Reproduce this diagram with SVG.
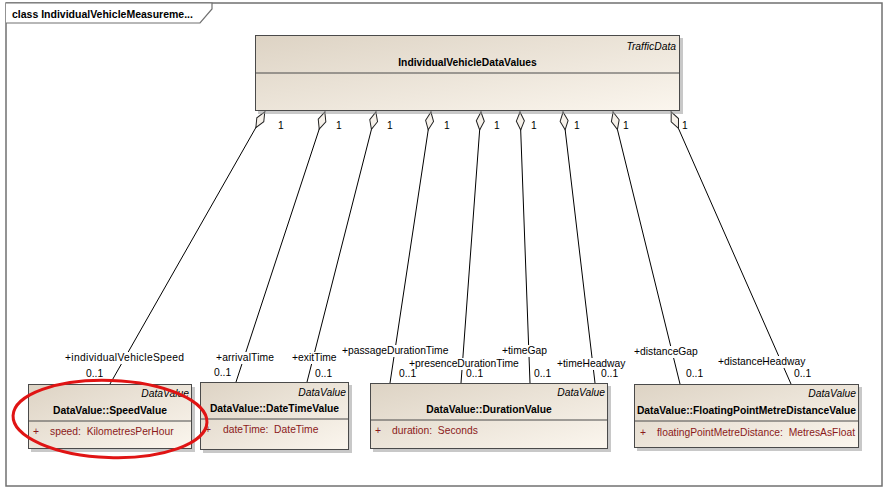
<svg xmlns="http://www.w3.org/2000/svg" width="891" height="493" viewBox="0 0 891 493">
<style>
text{font-family:"Liberation Sans",Arial,sans-serif;font-size:10.3px;fill:#000}
.b{font-weight:bold}
.i{font-style:italic}
.attr{fill:#8b1a1a}
.cls{fill:url(#g);stroke:#4a4a4a;stroke-width:1}
.sh{fill:#9a9a9a;opacity:.55}
.sep{stroke:#4a4a4a;stroke-width:1}
.con{stroke:#000;stroke-width:1;fill:none;marker-start:url(#dia)}
.bg{fill:#fff}
</style>
<defs>
<linearGradient id="g" x1="0" y1="0" x2="1" y2="1">
<stop offset="0" stop-color="#ddd3c4"/>
<stop offset="1" stop-color="#fbf6ee"/>
</linearGradient>
<marker id="dia" markerUnits="userSpaceOnUse" markerWidth="20" markerHeight="10" viewBox="0 0 20 10" refX="0" refY="5" orient="auto" overflow="visible">
<path d="M0.5,5 L9.5,1 L18.5,5 L9.5,9 Z" fill="#f6f1ea" stroke="#222" stroke-width="1"/>
</marker>
</defs>
<rect x="0" y="0" width="891" height="493" fill="#fff"/>
<g id="frame">
<rect x="6" y="3" width="876" height="483" fill="#fff" stroke="#707070" stroke-width="1.5"/>
<path d="M6,3 L212,3 L212,9 L200,23 L6,23" fill="#fff" stroke="#707070" stroke-width="1.2"/>
<text class="b" x="12" y="18" style="font-size:10.5px">class IndividualVehicleMeasureme...</text>
</g>
<g id="connectors">
<line class="con" x1="265" y1="111.5" x2="110" y2="384"/>
<line class="con" x1="325" y1="111.5" x2="236" y2="382"/>
<line class="con" x1="376" y1="111.5" x2="307" y2="382"/>
<line class="con" x1="431" y1="111.5" x2="390" y2="383"/>
<line class="con" x1="481" y1="111.5" x2="461" y2="383"/>
<line class="con" x1="520" y1="111.5" x2="530" y2="383"/>
<line class="con" x1="563" y1="111.5" x2="595" y2="383"/>
<line class="con" x1="613" y1="111.5" x2="680" y2="384"/>
<line class="con" x1="671" y1="111.5" x2="791" y2="384"/>
<g id="labels">
<text x="278" y="129">1</text>
<text x="336" y="129">1</text>
<text x="387" y="129">1</text>
<text x="444" y="129">1</text>
<text x="494" y="129">1</text>
<text x="531" y="129">1</text>
<text x="574" y="129">1</text>
<text x="623" y="129">1</text>
<text x="682" y="129">1</text>
<rect class="bg" x="64" y="352" width="121" height="12"/>
<text x="65" y="361" textLength="119" lengthAdjust="spacing">+individualVehicleSpeed</text>
<text x="86" y="377">0..1</text>
<rect class="bg" x="215" y="352" width="60" height="12"/>
<text x="216" y="361" textLength="58" lengthAdjust="spacing">+arrivalTime</text>
<text x="214" y="376">0..1</text>
<rect class="bg" x="291" y="352" width="47" height="12"/>
<text x="292" y="361">+exitTime</text>
<text x="315" y="377">0..1</text>
<rect class="bg" x="341" y="345" width="109" height="12"/>
<text x="342" y="354">+passageDurationTime</text>
<rect class="bg" x="408" y="358" width="111" height="12"/>
<text x="409" y="367">+presenceDurationTime</text>
<text x="399" y="377">0..1</text>
<text x="466" y="377">0..1</text>
<rect class="bg" x="501" y="345" width="47" height="12"/>
<text x="502" y="354">+timeGap</text>
<text x="534" y="377">0..1</text>
<rect class="bg" x="556" y="358" width="71" height="12"/>
<text x="557" y="367">+timeHeadway</text>
<text x="601" y="377">0..1</text>
<rect class="bg" x="633" y="346" width="66" height="12"/>
<text x="634" y="355">+distanceGap</text>
<text x="686" y="377">0..1</text>
<rect class="bg" x="717" y="356" width="88" height="12"/>
<text x="718" y="365">+distanceHeadway</text>
<text x="794" y="377">0..1</text>
</g>
</g>
<g id="IndividualVehicleDataValues">
<rect class="sh" x="258" y="38" width="425" height="76"/>
<rect class="cls" x="255.5" y="35.5" width="424" height="75"/>
<line class="sep" x1="255.5" y1="73" x2="679.5" y2="73"/>
<text class="i" x="676" y="50" text-anchor="end">TrafficData</text>
<text class="b" x="467.5" y="66" text-anchor="middle">IndividualVehicleDataValues</text>
</g>
<g id="SpeedValue">
<rect class="sh" x="31" y="387" width="164" height="65"/>
<rect class="cls" x="28.5" y="384.5" width="163" height="64"/>
<line class="sep" x1="28.5" y1="421" x2="191.5" y2="421"/>
<text class="i" x="189" y="397" text-anchor="end">DataValue</text>
<text class="b" x="110" y="414" text-anchor="middle">DataValue::SpeedValue</text>
<text class="attr" x="33" y="435">+</text>
<text class="attr" x="50" y="435" xml:space="preserve">speed:  KilometresPerHour</text>
</g>
<g id="DateTimeValue">
<rect class="sh" x="203" y="385" width="149" height="68"/>
<rect class="cls" x="200.5" y="382.5" width="148" height="67"/>
<line class="sep" x1="200.5" y1="419" x2="348.5" y2="419"/>
<text class="i" x="346" y="396" text-anchor="end">DataValue</text>
<text class="b" x="274.5" y="412" text-anchor="middle">DataValue::DateTimeValue</text>
<text class="attr" x="205" y="433">+</text>
<text class="attr" x="223" y="433" xml:space="preserve">dateTime:  DateTime</text>
</g>
<g id="DurationValue">
<rect class="sh" x="373" y="386" width="238" height="66"/>
<rect class="cls" x="370.5" y="383.5" width="237" height="65"/>
<line class="sep" x1="370.5" y1="420" x2="607.5" y2="420"/>
<text class="i" x="605" y="396" text-anchor="end">DataValue</text>
<text class="b" x="489" y="413" text-anchor="middle">DataValue::DurationValue</text>
<text class="attr" x="375" y="434">+</text>
<text class="attr" x="392" y="434" xml:space="preserve">duration:  Seconds</text>
</g>
<g id="FloatingPointMetreDistanceValue">
<clipPath id="fc"><rect x="634" y="384" width="225" height="64"/></clipPath>
<rect class="sh" x="637" y="387" width="225" height="64"/>
<rect class="cls" x="634.5" y="384.5" width="224" height="63"/>
<line class="sep" x1="634.5" y1="421" x2="858.5" y2="421"/>
<text class="i" x="856" y="397" text-anchor="end">DataValue</text>
<text class="b" x="746.5" y="414" text-anchor="middle">DataValue::FloatingPointMetreDistanceValue</text>
<g clip-path="url(#fc)">
<text class="attr" x="640" y="436">+</text>
<text class="attr" x="657" y="436" xml:space="preserve">floatingPointMetreDistance:  MetresAsFloat</text>
</g>
</g>
<ellipse cx="110" cy="419" rx="97" ry="38.5" fill="none" stroke="#e01414" stroke-width="3" transform="rotate(2 110 419)"/>
</svg>
